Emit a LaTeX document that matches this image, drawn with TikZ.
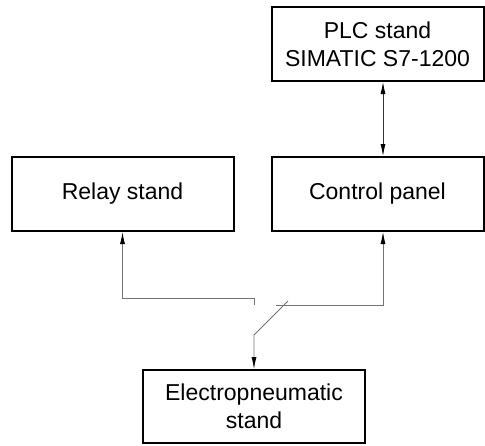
\documentclass[tikz,border=0pt]{standalone}
\usepackage{fontspec}
\setmainfont{Liberation Sans}
\usetikzlibrary{arrows.meta,positioning}

\begin{document}
\begin{tikzpicture}[x=1pt,y=1pt,node distance=74pt and 36pt,>={Latex[length=12pt,width=5pt,color=black]}]
    \tikzstyle{unit}=[draw,line width=2pt,minimum width=212pt,minimum height=74pt,inner sep=0pt,align=center,font=\fontsize{23}{28}\selectfont]
    \tikzstyle{link}=[draw=black!55,line width=0.8pt]
    \useasboundingbox (0,0) rectangle (485,-445);
    \node[unit] (ctrl) at (377.5,-194) {Control panel};
    \node[unit,above=of ctrl] (plc) {PLC stand\\SIMATIC S7-1200};
    \node[unit,left=of ctrl,minimum width=222pt] (relay) {Relay stand};
    \node[unit,minimum width=222pt,minimum height=73pt] (pneu) at (254,-406.5) {Electropneumatic\\stand};
    % switch contacts
    \coordinate (swL) at (254,-305);
    \coordinate (swR) at (276,-305);
    \coordinate (blade) at (288,-301);
    \coordinate (pivot) at (254,-335);
    \draw[link,<->,draw=black!80] ([xshift=5.5pt]plc.south) -- ([xshift=5.5pt]ctrl.north);
    \draw[link,->] (swL) -- ++(0,7) -| (relay.south);
    \draw[link,->] (swR) -| ([xshift=5.5pt]ctrl.south);
    \draw[link,->] (blade) -- (pivot) -- (pneu.north);
\end{tikzpicture}
\end{document}
